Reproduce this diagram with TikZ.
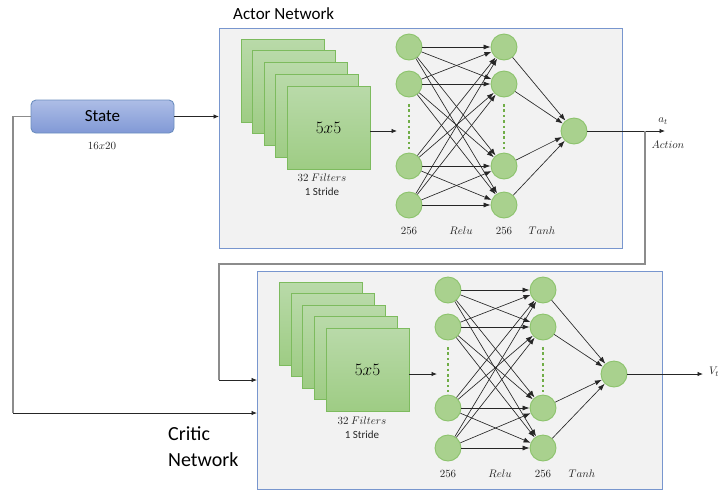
\documentclass[tikz,border=0pt]{standalone}
\usepackage{fontspec}
\setmainfont{Carlito}
\usetikzlibrary{arrows.meta,calc}
\definecolor{boxfill}{HTML}{F2F2F2}
\definecolor{boxline}{HTML}{7896CE}
\definecolor{sqtop}{HTML}{B9DAA9}
\definecolor{sqbot}{HTML}{9ECC84}
\definecolor{sqline}{HTML}{7DBB5E}
\definecolor{neufill}{HTML}{A9D18E}
\definecolor{neuline}{HTML}{8CC36C}
\definecolor{dotgreen}{HTML}{70AD47}
\definecolor{sttop}{HTML}{ADBDE6}
\definecolor{stbot}{HTML}{8199D6}
\definecolor{stline}{HTML}{6C8EBF}
\definecolor{wire}{HTML}{8C8C8C}
\tikzset{
  netbox/.style={draw=boxline, fill=boxfill, line width=1pt, inner sep=0pt},
  filt/.style={draw=sqline, top color=sqtop, bottom color=sqbot, minimum size=83pt, inner sep=0pt, line width=0.9pt},
  neu/.style={circle, draw=neuline, fill=neufill, minimum size=26pt, inner sep=0pt, line width=0.9pt},
  link/.style={draw=black!85, line width=0.65pt, -{Latex[length=7pt,width=5pt]}},
  wireline/.style={draw=wire, line width=1.5pt},
  arr/.style={draw=black!85, line width=0.8pt, -{Latex[length=5.5pt,width=4.5pt]}},
  lab/.style={font=\fontsize{11}{12}\selectfont, inner sep=0pt, text=black!85},
  dotcol/.style={draw=dotgreen, line width=2.8pt, dash pattern=on 2.6pt off 2.8pt},
}
\begin{document}
\begin{tikzpicture}[x=1pt,y=-1pt]
\useasboundingbox (0,0) rectangle (719,491);

% titles
\node[anchor=west, inner sep=0pt, font=\fontsize{17}{20}\selectfont] (tA) at (233,14) {Actor Network};
\node[anchor=north west, align=left, inner sep=0pt, font=\fontsize{20}{26}\selectfont] (tC) at (168,426) {Critic\\Network};

% network boxes
\node[netbox, minimum width=403pt, minimum height=220pt, anchor=north west] (A) at (219,28) {};
\node[netbox, minimum width=405pt, minimum height=218pt, anchor=north west] (C) at (257,271) {};

% state
\node[draw=stline, line width=0.9pt, rounded corners=5pt, top color=sttop, bottom color=stbot,
      minimum width=143pt, minimum height=33pt, inner sep=0pt, font=\fontsize{17}{20}\selectfont] (s) at (102.5,116.5) {State};
\node[lab] (sdim) at (102,146) {$16x20$};

% ---------- Actor ----------
\foreach \i in {1,...,4}
  \node[filt] (fa\i) at ({282.5+11.5*(\i-1)},{80.5+11.75*(\i-1)}) {};
\node[filt, font=\fontsize{18}{20}\selectfont] (fa5) at (328.5,127.5) {$5x5$};
\node[lab] (fat) at (322,178) {$32\ Filters$};
\node[lab] (fas) at (322,192) {1 Stride};
\coordinate (adot) at (397,131);
\draw[arr] (fa5.east |- adot) -- (adot);

\foreach \i/\y in {1/47,2/84,3/166,4/205} {
  \node[neu] (a1\i) at (409,\y) {};
  \node[neu] (a2\i) at (504,\y) {};
}
\node[neu] (ao) at (574,131) {};
\coordinate (ad1s) at (409,104);
\coordinate (ad1e) at (409,149);
\coordinate (ad2s) at (504,104);
\coordinate (ad2e) at (504,149);
\draw[dotcol] (ad1s) -- (ad1e);
\draw[dotcol] (ad2s) -- (ad2e);
\foreach \i in {1,...,4}
  \foreach \j in {1,...,4}
    \draw[link] (a1\i) -- (a2\j);
\foreach \j in {1,...,4}
  \draw[link] (a2\j) -- (ao);
\node[lab] (al1) at (409,231) {$256$};
\node[lab] (al2) at (461,231) {$Relu$};
\node[lab] (al3) at (504,231) {$256$};
\node[lab] (al4) at (542,231) {$Tanh$};

\coordinate (aend) at (665,131);
\draw[arr] (ao) -- (aend);
\node[lab] (at) at (663,121) {$a_t$};
\node[lab] (act) at (668,145) {$Action$};

% ---------- Critic ----------
\foreach \i in {1,...,4}
  \node[filt] (fc\i) at ({321+11.6*(\i-1)},{323.5+11.5*(\i-1)}) {};
\node[filt, font=\fontsize{18}{20}\selectfont] (fc5) at (367.5,369.5) {$5x5$};
\node[lab] (fct) at (362,421) {$32\ Filters$};
\node[lab] (fcs) at (362,435) {1 Stride};
\coordinate (cdot) at (437,374);
\draw[arr] (fc5.east |- cdot) -- (cdot);

\foreach \i/\y in {1/290,2/327,3/408,4/448} {
  \node[neu] (c1\i) at (448,\y) {};
  \node[neu] (c2\i) at (543,\y) {};
}
\node[neu] (co) at (614,374) {};
\coordinate (cd1s) at (448,347);
\coordinate (cd1e) at (448,392);
\coordinate (cd2s) at (543,347);
\coordinate (cd2e) at (543,392);
\draw[dotcol] (cd1s) -- (cd1e);
\draw[dotcol] (cd2s) -- (cd2e);
\foreach \i in {1,...,4}
  \foreach \j in {1,...,4}
    \draw[link] (c1\i) -- (c2\j);
\foreach \j in {1,...,4}
  \draw[link] (c2\j) -- (co);
\node[lab] (cl1) at (448,474) {$256$};
\node[lab] (cl2) at (500,474) {$Relu$};
\node[lab] (cl3) at (543,474) {$256$};
\node[lab] (cl4) at (582,474) {$Tanh$};

\coordinate (cend) at (703,374);
\draw[arr] (co) -- (cend);
\node[lab] (vt) at (714,372) {$V_t$};

% ---------- wiring ----------
\draw[arr] (s.east) -- (s.east -| A.west);
\coordinate (k1) at (13,413);
\coordinate (cin2) at (257,413);
\draw[wireline] (s.west) -| (k1);
\draw[arr] (k1) -- (cin2);
\coordinate (j1) at (645,131);
\coordinate (k2) at (219,264);
\coordinate (k3) at (219,380);
\coordinate (cin1) at (257,380);
\draw[wireline] (j1) |- (k2) -- (k3);
\draw[arr] (k3) -- (cin1);
\end{tikzpicture}
\end{document}
